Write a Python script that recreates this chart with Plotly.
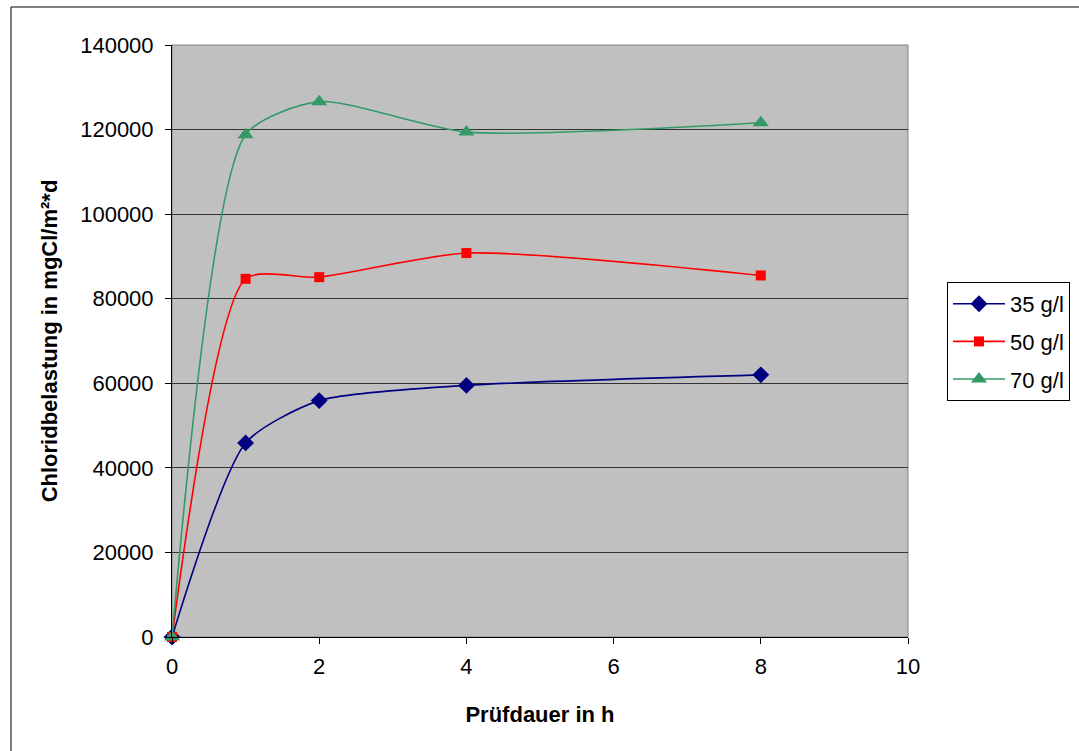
import plotly.graph_objects as go

# Prüfdauer in Stunden
hours = [0, 1, 2, 4, 8]

# Chloridbelastung in mgCl/m²*d je Salzkonzentration
load_35 = [0, 45900, 55900, 59500, 62000]
load_50 = [0, 84700, 85100, 90800, 85500]
load_70 = [0, 118800, 126600, 119400, 121600]

series_names = ["35 g/l", "50 g/l", "70 g/l"]
x_ticks = [0, 2, 4, 6, 8, 10]
y_ticks = [0, 20000, 40000, 60000, 80000, 100000, 120000, 140000]

W, H = 1079, 751
L, R, T, B = 172, 908, 45, 637

fig = go.Figure()

styles = [
    (load_35, "#000080", "diamond", 13),
    (load_50, "#FF0000", "square", 10),
    (load_70, "#339966", "triangle-up", 14),
]
for name, (vals, color, sym, size) in zip(series_names, styles):
    fig.add_trace(go.Scatter(
        x=hours, y=vals, name=name, mode="lines+markers", legendgroup=name,
        line=dict(color=color, width=1.6, shape="spline", smoothing=0.65),
        marker=dict(symbol=sym, size=size, color=color),
        cliponaxis=False,
    ))

font = "Liberation Sans, Arial, sans-serif"

fig.update_layout(
    width=W, height=H,
    margin=dict(l=L, r=W - R, t=T, b=H - B, autoexpand=False),
    paper_bgcolor="white",
    plot_bgcolor="#C0C0C0",
    font=dict(family=font, size=22, color="black"),
    showlegend=True,
    legend=dict(
        xref="container", yref="container",
        x=947 / W, y=1 - 282 / H,
        xanchor="left", yanchor="top",
        bgcolor="white", bordercolor="black", borderwidth=1,
        font=dict(size=22), traceorder="grouped", tracegroupgap=6, itemwidth=52,
    ),
    xaxis=dict(
        range=[0, 10], tickvals=x_ticks, showgrid=False, zeroline=False,
        showline=True, linecolor="black", linewidth=1,
        ticks="outside", ticklen=6, tickcolor="black", ticklabelstandoff=4,
        title=dict(text="<b>Prüfdauer in h</b>", font=dict(size=22), standoff=28),
    ),
    yaxis=dict(
        range=[0, 140000], tickvals=y_ticks, tickformat="d",
        showgrid=True, gridcolor="#333333", gridwidth=1, zeroline=False,
        showline=True, linecolor="black", linewidth=1,
        ticks="outside", ticklen=6, tickcolor="black", ticklabelstandoff=7,
        title=dict(text="<b>Chloridbelastung in mgCl/m²*d</b>", font=dict(size=22), standoff=16),
    ),
    shapes=[
        # Rahmen des Diagrammbereichs
        dict(type="rect", xref="paper", yref="paper",
             x0=(11 - L) / (R - L), x1=(W + 20 - L) / (R - L),
             y0=(B - H - 20) / (B - T), y1=(B - 7) / (B - T),
             line=dict(color="black", width=1), fillcolor="rgba(0,0,0,0)", layer="below"),
        # Rahmen der Zeichenfläche
        dict(type="rect", xref="paper", yref="paper", x0=0, x1=1, y0=0, y1=1,
             line=dict(color="#808080", width=1), fillcolor="rgba(0,0,0,0)", layer="below"),
    ],
)

fig.write_html("out.html")
